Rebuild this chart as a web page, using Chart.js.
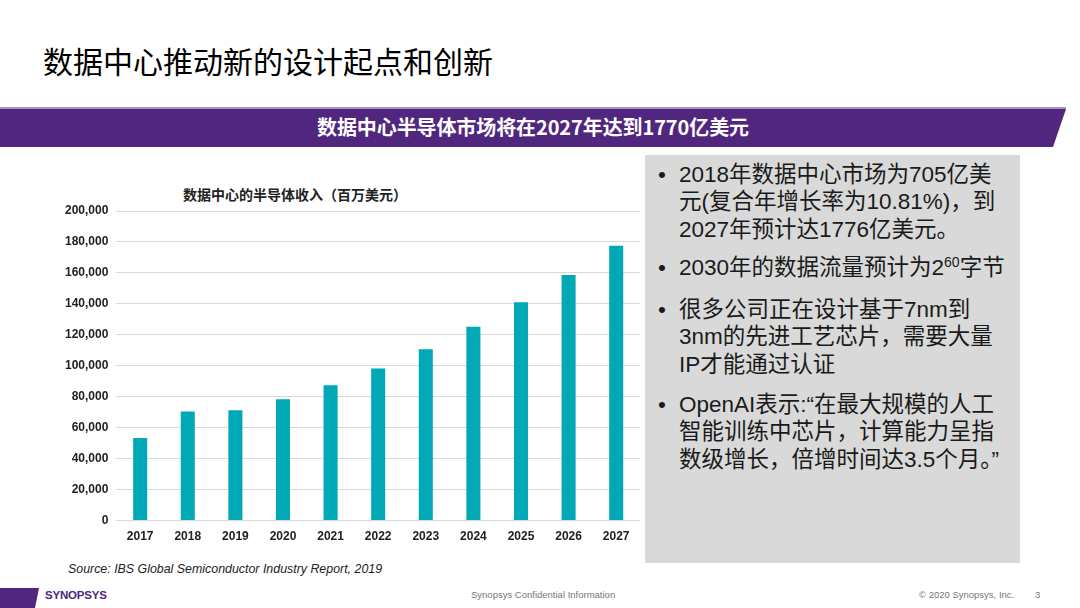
<!DOCTYPE html>
<html>
<head>
<meta charset="utf-8">
<script src="https://cdn.jsdelivr.net/npm/chart.js@4"></script>
<style>
  html,body{margin:0;padding:0;background:#fff;}
  body{width:1080px;height:608px;position:relative;overflow:hidden;font-family:"Liberation Sans","Noto Sans CJK SC",sans-serif;}
  .title{position:absolute;left:43px;top:38px;font-family:"Noto Sans CJK SC";font-size:30px;color:#000;white-space:nowrap;}
  .banner{position:absolute;left:0;top:109px;width:1066px;height:38px;background:#51267F;clip-path:polygon(0 0,1066px 0,1053px 38px,0 38px);}
  .bannerline{position:absolute;left:0;top:107px;width:1066px;height:2px;background:#A895C2;}
  .bannertext{position:absolute;left:0;top:109px;width:1066px;height:38px;line-height:36px;text-align:center;color:#fff;font-family:"Noto Sans CJK SC";font-weight:700;font-size:20px;letter-spacing:-0.1px;white-space:nowrap;}
  .box{position:absolute;left:645px;top:155px;width:375px;height:408px;background:#D9D9D9;}
  .b{position:absolute;left:658px;width:360px;font-family:"Liberation Sans","Noto Sans CJK SC";font-size:22.5px;line-height:27.3px;color:#1a1a1a;white-space:nowrap;}
  .b .dot{position:absolute;left:0;top:0;}
  .b .t{position:absolute;left:21px;top:0;}
  .src{position:absolute;left:68px;top:562px;font-style:italic;font-size:12.4px;color:#222;white-space:nowrap;}
  .charttitle{position:absolute;left:183px;top:184px;width:224px;text-align:center;font-family:"Noto Sans CJK SC";font-weight:700;font-size:14px;color:#222;white-space:nowrap;}
  #c{position:absolute;left:55px;top:180px;}
  .foot{position:absolute;top:589px;font-size:9.5px;color:#777;white-space:nowrap;}
  .logo{position:absolute;left:0;top:588px;width:40px;height:20px;background:#51267F;clip-path:polygon(0 0,39px 0,35px 20px,0 20px);}
  .logotext{position:absolute;left:45px;top:589px;font-family:"Liberation Sans";font-weight:700;font-size:11.5px;color:#51267F;letter-spacing:-0.2px;}
</style>
</head>
<body>
<div class="title">数据中心推动新的设计起点和创新</div>
<div class="bannerline"></div>
<div class="banner"></div>
<div class="bannertext">数据中心半导体市场将在2027年达到1770亿美元</div>
<div class="box"></div>
<div class="b" style="top:161px;"><span class="dot">•</span><span class="t">2018年数据中心市场为705亿美<br>元(复合年增长率为10.81%)，到<br>2027年预计达1776亿美元。</span></div>
<div class="b" style="top:254px;"><span class="dot">•</span><span class="t">2030年的数据流量预计为2<span style="font-size:14px;position:relative;top:-8px;">60</span>字节</span></div>
<div class="b" style="top:296px;"><span class="dot">•</span><span class="t">很多公司正在设计基于7nm到<br>3nm的先进工艺芯片，需要大量<br>IP才能通过认证</span></div>
<div class="b" style="top:391px;"><span class="dot">•</span><span class="t">OpenAI表示:“在最大规模的人工<br>智能训练中芯片，计算能力呈指<br>数级增长，倍增时间达3.5个月。”</span></div>
<div class="charttitle">数据中心的半导体收入（百万美元）</div>
<canvas id="c" width="590" height="379"></canvas>
<div class="src">Source: IBS Global Semiconductor Industry Report, 2019</div>
<div class="logo"></div>
<div class="logotext">SYNOPSYS</div>
<div class="foot" style="left:471px;">Synopsys Confidential Information</div>
<div class="foot" style="left:919px;">© 2020 Synopsys, Inc.</div>
<div class="foot" style="left:1035px;">3</div>
<script>
const years = ["2017","2018","2019","2020","2021","2022","2023","2024","2025","2026","2027"];
const revenue = [53300, 70500, 71300, 78400, 87500, 98200, 110700, 125200, 141000, 158600, 177600];
const yTicks = [0, 20000, 40000, 60000, 80000, 100000, 120000, 140000, 160000, 180000, 200000];

new Chart(document.getElementById('c'), {
  type: 'bar',
  data: {
    labels: years,
    datasets: [{
      data: revenue,
      backgroundColor: '#00A9B5',
      borderWidth: 0,
      barPercentage: 0.59,
      categoryPercentage: 0.5
    }]
  },
  options: {
    responsive: false,
    animation: false,
    devicePixelRatio: 1,
    layout: {padding: {left: 2, right: 5, top: 31, bottom: 6}},
    plugins: {
      legend: {display: false},
      tooltip: {enabled: false},
      title: {display: false}
    },
    scales: {
      x: {
        grid: {display: false, drawTicks: false},
        border: {display: false},
        ticks: {color: '#222', font: {family: '"Liberation Sans"', size: 12, weight: 'bold'}, padding: 9}
      },
      y: {
        min: yTicks[0], max: yTicks[yTicks.length - 1],
        afterBuildTicks: axis => { axis.ticks = yTicks.map(v => ({value: v})); },
        ticks: {
          color: '#222',
          font: {family: '"Liberation Sans"', size: 12, weight: 'bold'},
          padding: 8,
          callback: v => v.toLocaleString('en-US')
        },
        grid: {color: '#D9D9D9', lineWidth: 1, drawTicks: false},
        border: {display: false}
      }
    }
  }
});
</script>
</body>
</html>
